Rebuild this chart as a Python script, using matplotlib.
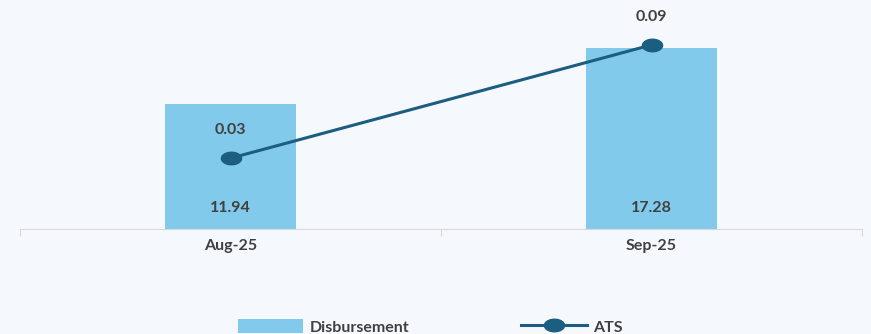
import numpy as np
import matplotlib.pyplot as plt
from matplotlib.path import Path

months = ["Aug-25", "Sep-25"]
disbursement = [11.94, 17.28]
ats = [0.03, 0.09]

BAR_COLOR = "#82CAEB"
LINE_COLOR = "#1B5E80"
TEXT_COLOR = "#404040"
BG = "#F5F9FD"
FS = 11.5

plt.rcParams['font.family'] = ['Lato', 'DejaVu Sans']

# flattened circle used as the line marker
t = np.linspace(0, 2 * np.pi, 60)
ellipse = Path(np.column_stack([np.cos(t), 0.62 * np.sin(t)]), closed=True)

fig = plt.figure(figsize=(8.71, 3.34), dpi=100, facecolor=BG)
ax = fig.add_axes([20 / 871, 105 / 334, 842 / 871, 209 / 334])
ax.set_facecolor(BG)

x = np.arange(len(months))
bars = ax.bar(x, disbursement, width=0.313, color=BAR_COLOR, label="Disbursement", zorder=2)
ax.set_xlim(-0.5, 1.5)
ax.set_ylim(0, 20)

for xi, v in zip(x, disbursement):
    ax.annotate(f"{v:.2f}", (xi, 0), xytext=(0, 21), textcoords="offset pixels",
                ha="center", va="center", fontsize=FS, fontweight="bold", color=TEXT_COLOR)

for side in ["top", "right", "left"]:
    ax.spines[side].set_visible(False)
ax.spines["bottom"].set_color("#D9D9D9")
ax.set_yticks([])
ax.set_xticks([-0.5, 0.5, 1.5])
ax.set_xticklabels([])
ax.tick_params(axis="x", which="major", length=5, color="#D9D9D9")
ax.set_xticks(x, minor=True)
ax.set_xticklabels(months, minor=True, fontsize=FS, fontweight="bold", color=TEXT_COLOR)
ax.tick_params(axis="x", which="minor", length=0, pad=7)

ax2 = ax.twinx()
ax2.set_ylim(-0.0075, 0.1032)
ax2.axis("off")
line, = ax2.plot(x, ats, color=LINE_COLOR, lw=2.2, marker=ellipse, markersize=14.5,
                 label="ATS", zorder=3)
for xi, v in zip(x, ats):
    ax2.annotate(f"{v:.2f}", (xi, v), xytext=(0, 28), textcoords="offset pixels",
                 ha="center", va="center", fontsize=FS, fontweight="bold", color=TEXT_COLOR)

fig.legend([bars, line], ["Disbursement", "ATS"], loc="center", bbox_to_anchor=(0.494, 0.021),
           ncol=2, frameon=False, handlelength=4.1, handleheight=1.0, handletextpad=0.4,
           columnspacing=7.0, prop={"size": FS, "weight": "bold"}, labelcolor=TEXT_COLOR)

fig.savefig("out.png", dpi=100, facecolor=BG)
